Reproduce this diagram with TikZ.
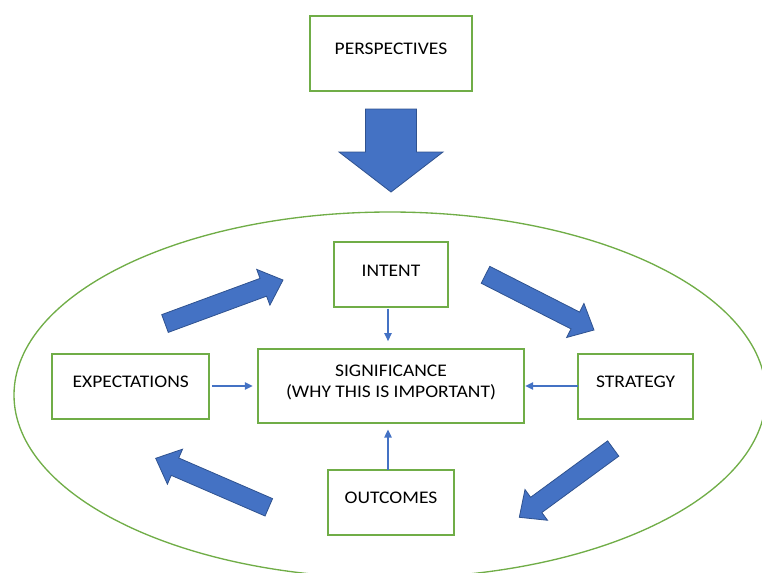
\documentclass[tikz,border=0pt]{standalone}
\usepackage{fontspec}
\setmainfont{Carlito}[FakeStretch=1.1]
\usepackage{tikz}
\usetikzlibrary{arrows.meta,positioning,calc}
\definecolor{cycleblue}{RGB}{68,114,196}
\definecolor{cycleedge}{RGB}{47,82,143}
\definecolor{cyclegreen}{RGB}{112,173,71}

% fat block arrow: #1 tail, #2 tip, #3 half shaft, #4 half head, #5 head length
\newcommand{\blockarrow}[5]{%
  \coordinate (ba-base) at ($(#2)!#5!(#1)$);
  \filldraw[bigarrow] ($(#1)!#3!90:(#2)$) -- ($(ba-base)!#3!90:(#2)$)
    -- ($(ba-base)!#4!90:(#2)$) -- (#2) -- ($(ba-base)!#4!-90:(#2)$)
    -- ($(ba-base)!#3!-90:(#2)$) -- ($(#1)!#3!-90:(#2)$) -- cycle;
}

\begin{document}
\begin{tikzpicture}[
  x=0.75pt,
  y=-0.75pt,
  box/.style={
    draw=cyclegreen,
    line width=1.5pt,
    outer sep=0pt,
    minimum height=48.75pt,
    text height=8.6pt,
    text depth=6.8pt,
    align=center,
    font=\fontsize{13.3}{15.45}\selectfont
  },
  link/.style={-{Triangle[length=6pt,width=5.5pt]},line width=1.1pt,draw=cycleblue,
    shorten <=1pt,shorten >=4pt},
  bigarrow/.style={fill=cycleblue,draw=cycleedge,line width=0.6pt},
  ring/.style={draw=cyclegreen,line width=1pt}
]
\useasboundingbox (0,0) rectangle (762,572);

\draw[ring] (390,395) ellipse [x radius=282pt, y radius=137.25pt];

\node[box,minimum width=199.3pt,minimum height=55.3pt,text height=24.05pt] (sig) at (391,386)
  {SIGNIFICANCE\\(WHY THIS IS IMPORTANT)};
\node[box,minimum width=85.8pt,above=31.3pt of sig] (intent) {INTENT};
\node[box,minimum width=94.2pt,below=35.5pt of sig] (outcomes) {OUTCOMES};
\node[box,minimum width=117.5pt,left=36.75pt of sig] (expect) {EXPECTATIONS};
\node[box,minimum width=86.25pt,right=40.7pt of sig] (strategy) {STRATEGY};
\node[box,minimum width=122pt,minimum height=56.25pt,above=113.7pt of intent] (persp) {PERSPECTIVES};

\draw[link,shorten >=6pt] ($(intent.south)+(-2.25pt,0)$) -- ($(intent.south |- sig.north)+(-2.25pt,0)$);
\draw[link,shorten <=0pt,shorten >=5pt] ($(outcomes.north)+(-2.25pt,0)$) -- ($(outcomes.north |- sig.south)+(-2.25pt,0)$);
\draw[link,shorten <=2pt] (expect.east |- sig) -- (sig.west);
\draw[link,shorten <=0pt,shorten >=1pt] (strategy.west |- sig) -- (sig.east);

% big arrows round the cycle
\coordinate (downtail) at (391,109);
\coordinate (downtip) at (391,192);
\blockarrow{downtail}{downtip}{19.1pt}{39pt}{30pt}

\coordinate (a1tail) at (165,323.5);
\coordinate (a1tip) at (283,280);
\blockarrow{a1tail}{a1tip}{7.1pt}{14.3pt}{15.75pt}

\coordinate (a2tail) at (485.5,274.8);
\coordinate (a2tip) at (594,330);
\blockarrow{a2tail}{a2tip}{7.1pt}{14.3pt}{15.75pt}

\coordinate (a3tail) at (613.2,448.5);
\coordinate (a3tip) at (519.3,517.3);
\blockarrow{a3tail}{a3tip}{7.1pt}{14.3pt}{15.75pt}

\coordinate (a4tail) at (268.8,507.3);
\coordinate (a4tip) at (155.7,458.3);
\blockarrow{a4tail}{a4tip}{7.1pt}{14.3pt}{15.75pt}
\end{tikzpicture}
\end{document}
